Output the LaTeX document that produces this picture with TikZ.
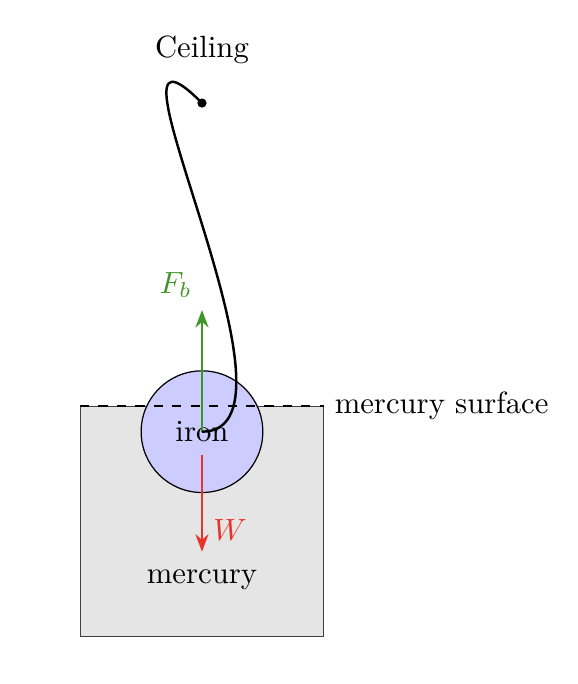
\documentclass[tikz,border=0pt]{standalone}
\usetikzlibrary{arrows.meta}

\definecolor{forcegreen}{RGB}{62,150,40}
\definecolor{forcered}{RGB}{232,52,40}

\begin{document}
\begin{tikzpicture}[
    force/.style={-Stealth, semithick},
    rope/.style={thick},
    label/.style={inner sep=2pt}
]
    \useasboundingbox (-2.311,-2.897) rectangle (4.302,4.929);

    % Mercury bath
    \node[draw=black!75, fill=gray!20, minimum width=2.776cm, minimum height=2.631cm, inner sep=0] (bath) at (0,-1.04) {};
    \node[label] (mercury) at (0,-1.707) {mercury};

    % Iron ball
    \node[circle, draw, fill=blue!20, minimum size=1.392cm, inner sep=0] (iron) at (0,-0.01) {iron};

    % Mercury surface
    \draw[dashed] (bath.north west) -- (bath.north east) node[right] (surface) {mercury surface};

    % Forces
    \coordinate (fbtip) at (0,1.382);
    \coordinate (wtop) at (0,-0.277);
    \coordinate (wtip) at (0,-1.383);
    \draw[force, forcegreen] (iron.center) -- (fbtip);
    \draw[force, forcered] (wtop) -- (wtip);
    \node[label, text=forcegreen] (fb) at (-0.30,1.67) {$F_b$};
    \node[label, text=forcered] (w) at (0.32,-1.135) {$W$};

    % Ceiling and rope
    \coordinate (hook) at (0,3.75);
    \node[label] (ceiling) at (0,4.357) {Ceiling};
    \fill (hook) circle (1.5pt);
    \draw[rope] (hook) .. controls +(-1.4,1.41) and +(1.37,0) .. (iron.center);
\end{tikzpicture}
\end{document}
